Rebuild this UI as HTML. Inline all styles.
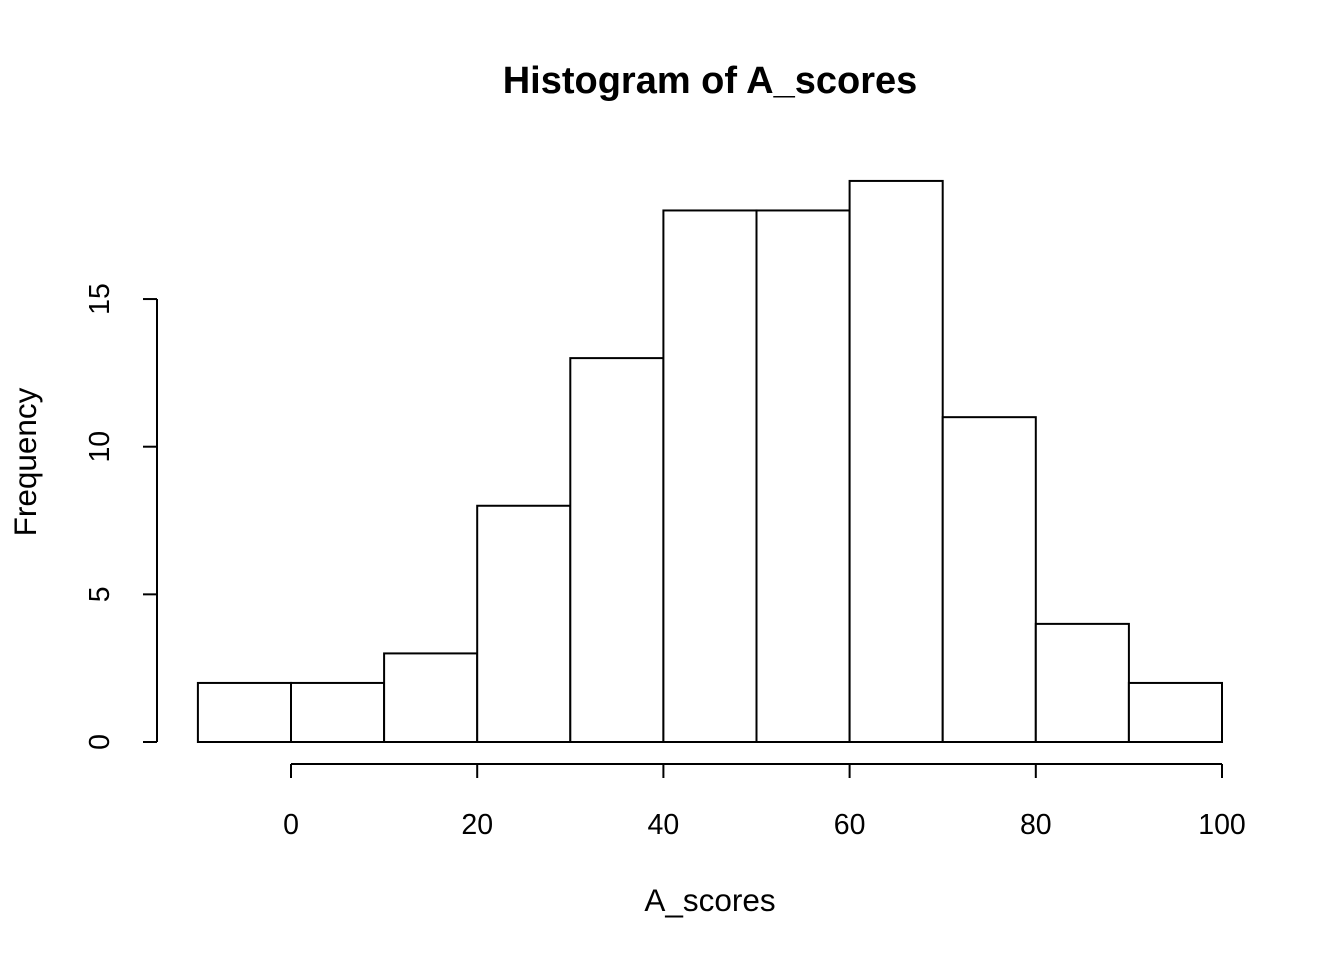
<!DOCTYPE html>
<html><head><meta charset="utf-8"><style>
html,body{margin:0;padding:0;background:#fff}
svg{display:block;font-family:"Liberation Sans",Arial,sans-serif}
</style></head><body>
<svg id="c" width="1344" height="960" xmlns="http://www.w3.org/2000/svg">
<text x="710" y="93" text-anchor="middle" font-size="38" font-weight="bold">Histogram of A_scores</text>
<text x="710" y="911" text-anchor="middle" font-size="31.5">A_scores</text>
<text transform="translate(36,462) rotate(-90)" text-anchor="middle" font-size="31.5">Frequency</text>
<g id="bars"></g><g id="xaxis"></g><g id="yaxis"></g>
</svg>
<script>
const breaks=[-10,0,10,20,30,40,50,60,70,80,90,100];
const counts=[2,2,3,8,13,18,18,19,11,4,2];
const xTicks=[0,20,40,60,80,100];
const yTicks=[0,5,10,15];
const NS="http://www.w3.org/2000/svg";
const X=v=>291+(v-0)*9.31;
const Y=v=>742-v*29.53;
function mk(tag,attrs,parent){const e=document.createElementNS(NS,tag);for(const k in attrs)e.setAttribute(k,attrs[k]);parent.appendChild(e);return e;}
const bars=document.getElementById('bars');
counts.forEach((c,i)=>{
 const r=mk('rect',{x:X(breaks[i]),y:Y(c),width:X(breaks[i+1])-X(breaks[i]),height:Y(0)-Y(c),fill:'#fff',stroke:'#000','stroke-width':2},bars);
 
 
});
const xa=document.getElementById('xaxis');
const xl=mk('line',{x1:X(xTicks[0]),x2:X(xTicks[xTicks.length-1]),y1:764,y2:764,stroke:'#000','stroke-width':2},xa);


xTicks.forEach(t=>{
 mk('line',{x1:X(t),x2:X(t),y1:764,y2:778,stroke:'#000','stroke-width':2},xa);
 const tx=mk('text',{x:X(t),y:834,'text-anchor':'middle','font-size':28.5},xa);
 tx.textContent=t;
 
 
});
const ya=document.getElementById('yaxis');
const yl=mk('line',{x1:157,x2:157,y1:Y(yTicks[0]),y2:Y(yTicks[yTicks.length-1]),stroke:'#000','stroke-width':2},ya);


yTicks.forEach(t=>{
 mk('line',{x1:143,x2:157,y1:Y(t),y2:Y(t),stroke:'#000','stroke-width':2},ya);
 const tx=mk('text',{transform:'translate(109,'+Y(t)+') rotate(-90)','text-anchor':'middle','font-size':28.5},ya);
 tx.textContent=t;
 
 
});
</script>
</body></html>
